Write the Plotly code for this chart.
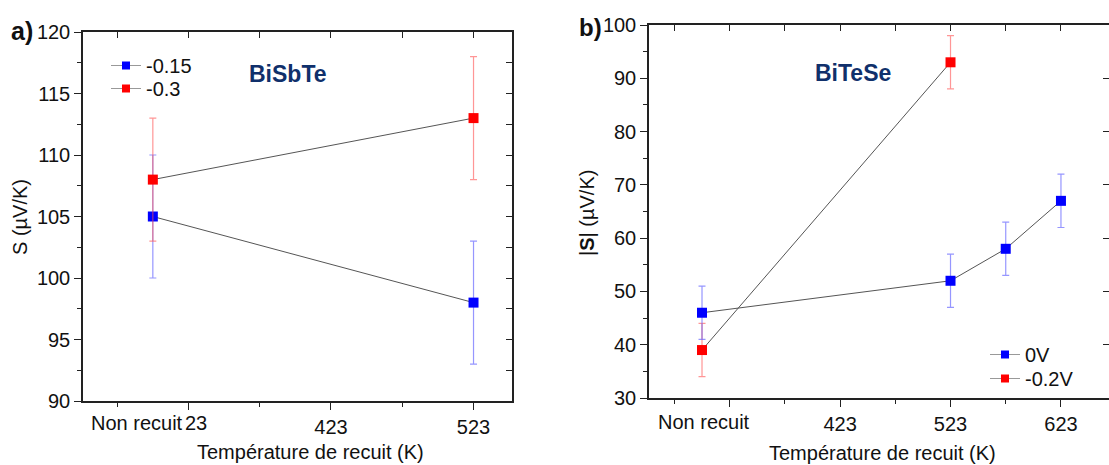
import plotly.graph_objects as go

# ---------- data ----------
temps_a = [298, 523]
s_a_015 = [105, 98]
err_a_015 = [5, 5]
s_a_03 = [108, 113]
err_a_03 = [5, 5]

temps_b_0v = [298, 523, 573, 623]
s_b_0v = [46, 52, 58, 67]
err_b_0v = [5, 5, 5, 5]
temps_b_02v = [298, 523]
s_b_02v = [39, 93]
err_b_02v = [5, 5]

xticks_a = [323, 423, 523]
xticklabels_a = ["", "423", "523"]
xminor_a = [273, 373, 473]
xticks_b = [323, 423, 523, 623]
xticklabels_b = ["", "423", "523", "623"]
xminor_b = [273, 373, 473, 573]

W, H = 1109, 465
FONT = "Liberation Sans, Arial, sans-serif"
BLUE = "#0000FF"
RED = "#FF0000"
LINEC = "#555555"
FS = 20

def px(x):
    return x / W

def py(y):
    return (H - y) / H

fig = go.Figure()

def series(x, y, e, color, ecolor, xa, ya):
    fig.add_trace(go.Scatter(
        x=x, y=y, mode="lines+markers", xaxis=xa, yaxis=ya, showlegend=False,
        line=dict(color=LINEC, width=1),
        marker=dict(symbol="square", size=10, color=color),
        error_y=dict(type="data", array=e, visible=True, color=ecolor,
                     thickness=1.2, width=3.5),
    ))

def legend_entry(name, color, legend):
    fig.add_trace(go.Scatter(
        x=[None], y=[None], mode="lines+markers", name=name, legend=legend,
        line=dict(color="#999999", width=1),
        marker=dict(symbol="square", size=8, color=color),
    ))

# panel a
series(temps_a, s_a_015, err_a_015, BLUE, "rgba(80,80,255,0.6)", "x", "y")
series(temps_a, s_a_03, err_a_03, RED, "rgba(255,80,80,0.6)", "x", "y")
legend_entry("-0.15", BLUE, "legend")
legend_entry("-0.3", RED, "legend2")

# panel b
series(temps_b_02v, s_b_02v, err_b_02v, RED, "rgba(255,80,80,0.6)", "x2", "y2")
series(temps_b_0v, s_b_0v, err_b_0v, BLUE, "rgba(80,80,255,0.6)", "x2", "y2")
legend_entry("0V", BLUE, "legend3")
legend_entry("-0.2V", RED, "legend4")

# dummy traces to create mirror (inside-tick) axes
fig.add_trace(go.Scatter(x=[None], y=[None], xaxis="x3", yaxis="y3", showlegend=False))
fig.add_trace(go.Scatter(x=[None], y=[None], xaxis="x4", yaxis="y4", showlegend=False))

dom_xa = [px(83), px(512)]
dom_ya = [py(401), py(32)]
dom_xb = [px(649), 1.0]
dom_yb = [py(398), py(25)]
rng_xa = [249, 550]
rng_ya = [90, 120]
rng_xb = [250, 666.5]
rng_yb = [30, 100]

tickfont = dict(family=FONT, size=FS, color="#111111")
axcommon = dict(showline=True, linecolor="#222222", linewidth=1.5, showgrid=False,
                zeroline=False, ticks="outside", ticklen=7, tickwidth=1.3,
                tickcolor="#222222", tickfont=tickfont, automargin=False)
mirror = dict(showline=True, linecolor="#222222", linewidth=1.5, showgrid=False,
              zeroline=False, showticklabels=False, ticks="inside", ticklen=6,
              tickcolor="#222222", automargin=False)

def leg(x, ycenter):
    return dict(x=px(x), y=py(ycenter - 19), xanchor="left", yanchor="top",
                bgcolor="rgba(0,0,0,0)", font=dict(family=FONT, size=FS, color="#111111"),
                itemwidth=30)

fig.update_layout(
    width=W, height=H, margin=dict(l=0, r=0, t=0, b=0, autoexpand=False),
    paper_bgcolor="white", plot_bgcolor="white",
    xaxis=dict(domain=dom_xa, range=rng_xa, anchor="y", tickmode="array",
               tickvals=xticks_a, ticktext=xticklabels_a,
               minor=dict(tickvals=xminor_a, ticks="outside", ticklen=4,
                          tickcolor="#222222", tickwidth=1.2), **axcommon),
    yaxis=dict(domain=dom_ya, range=rng_ya, anchor="x", dtick=5,
               minor=dict(dtick=2.5, ticks="outside", ticklen=4,
                          tickcolor="#222222", tickwidth=1.2), **axcommon),
    xaxis2=dict(domain=dom_xb, range=rng_xb, anchor="y2", tickmode="array",
                tickvals=xticks_b, ticktext=xticklabels_b,
                minor=dict(tickvals=xminor_b, ticks="outside", ticklen=4,
                           tickcolor="#222222", tickwidth=1.2), **axcommon),
    yaxis2=dict(domain=dom_yb, range=rng_yb, anchor="x2", dtick=10,
                minor=dict(dtick=5, ticks="outside", ticklen=4,
                           tickcolor="#222222", tickwidth=1.2), **axcommon),
    xaxis3=dict(overlaying="x", side="top", anchor="y", range=rng_xa, tickmode="array",
                tickvals=xticks_a + xminor_a, **mirror),
    yaxis3=dict(overlaying="y", side="right", anchor="x", range=rng_ya, dtick=2.5, **mirror),
    xaxis4=dict(overlaying="x2", side="top", anchor="y2", range=rng_xb, tickmode="array",
                tickvals=xticks_b + xminor_b, **mirror),
    yaxis4=dict(overlaying="y2", side="right", anchor="x2", range=rng_yb, dtick=10, **mirror),
    legend=leg(106, 65),
    legend2=leg(106, 88),
    legend3=leg(985, 354),
    legend4=leg(985, 378),
    showlegend=True,
)

def label(x, y, text, size=FS, color="#111111", family=FONT, angle=0, anchor="center"):
    return dict(xref="paper", yref="paper", x=px(x), y=py(y), text=text, showarrow=False,
                xanchor=anchor, yanchor="middle", textangle=angle,
                font=dict(family=family, size=size, color=color))

NARROW = "Liberation Sans Narrow, Arial Narrow, Liberation Sans"
ann = [
    # "Non recuit" labels (and the visible remainder "23" of the hidden 323 label in panel a)
    label(137, 423, "Non recuit"),
    label(183, 423, "23", anchor="left"),
    label(704, 422, "Non recuit"),
    # axis titles
    label(310, 452, "Température de recuit (K)"),
    label(882, 453, "Température de recuit (K)"),
    label(20, 217, "S (µV/K)", angle=-90),
    label(587, 213, "|<b>S</b>| (µV/K)", angle=-90),
    # panel letters
    label(22, 31, "<b>a)</b>", size=25),
    label(590, 27, "<b>b)</b>", size=24),
    # material labels
    label(288, 74, "<b>BiSbTe</b>", size=23, color="#10306B", family=NARROW),
    label(853, 73, "<b>BiTeSe</b>", size=23, color="#10306B", family=NARROW),
]
fig.update_layout(annotations=ann)

fig.write_html("out.html", config={"displayModeBar": False},
               post_script="document.body.style.margin='0';document.body.style.overflow='hidden';")
